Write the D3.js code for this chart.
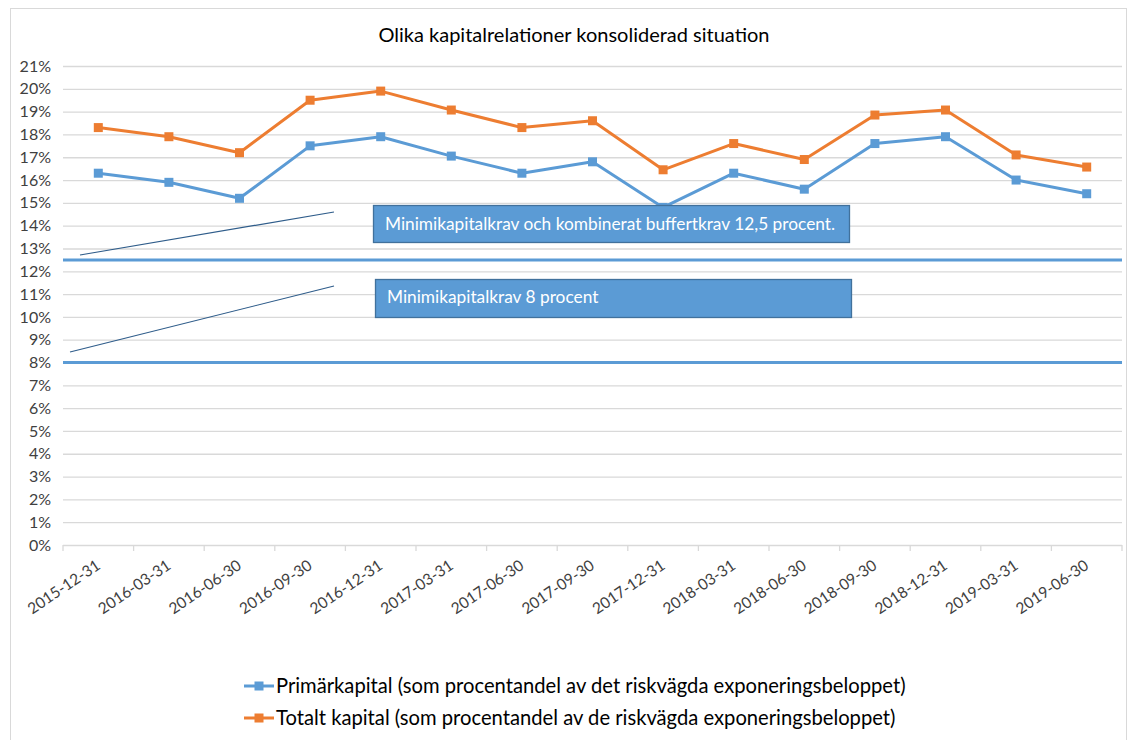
<!DOCTYPE html>
<html>
<head>
<meta charset="utf-8">
<script src="https://cdn.jsdelivr.net/npm/d3@7"></script>
<style>
  body { margin: 0; background: #fff; }
  text { font-family: Lato, "Open Sans", sans-serif; }
</style>
</head>
<body>
<div class="chart"></div>
<script>
// data
const dates = ["2015-12-31", "2016-03-31", "2016-06-30", "2016-09-30", "2016-12-31",
  "2017-03-31", "2017-06-30", "2017-09-30", "2017-12-31", "2018-03-31", "2018-06-30",
  "2018-09-30", "2018-12-31", "2019-03-31", "2019-06-30"];
const primar = [16.3, 15.9, 15.2, 17.5, 17.9, 17.05, 16.3, 16.8, 14.8, 16.3, 15.6, 17.6, 17.9, 16.0, 15.4];
const totalt = [18.3, 17.9, 17.2, 19.5, 19.9, 19.07, 18.3, 18.6, 16.45, 17.6, 16.9, 18.85, 19.07, 17.1, 16.57];
const yTicks = d3.range(0, 22);
const krav = [12.5, 8];
const seriesNames = ["Primärkapital (som procentandel av det riskvägda exponeringsbeloppet)",
  "Totalt kapital (som procentandel av de riskvägda exponeringsbeloppet)"];
const notes = ["Minimikapitalkrav och kombinerat buffertkrav 12,5 procent.", "Minimikapitalkrav 8 procent"];

const W = 1129, H = 740;
const blue = "#5b9bd5", orange = "#ed7d31";

const svg = d3.select(".chart").append("svg")
  .attr("width", W)
  .attr("height", H);

// outer border
svg.append("rect")
  .attr("x", 10.5).attr("y", 8.5)
  .attr("width", 1116).attr("height", 760)
  .attr("fill", "none").attr("stroke", "#d9d9d9");

svg.append("text")
  .attr("x", 574).attr("y", 42)
  .attr("text-anchor", "middle")
  .attr("font-size", 20)
  .attr("fill", "#000")
  .text("Olika kapitalrelationer konsoliderad situation");

const x = d3.scaleBand().domain(dates).range([63, 1122]);
const y = d3.scaleLinear().domain([0, 21]).range([545, 66]);

// gridlines
svg.append("g")
  .selectAll("line")
  .data(yTicks.slice(1))
  .join("line")
  .attr("x1", 63).attr("x2", 1122)
  .attr("y1", d => y(d) + 0.5).attr("y2", d => y(d) + 0.5)
  .attr("stroke", "#d9d9d9").attr("stroke-width", 1.3);

// y axis labels
const yAxis = d3.axisLeft(y)
  .tickValues(yTicks)
  .tickFormat(d => d + "%")
  .tickSize(0)
  .tickPadding(12);

svg.append("g")
  .attr("transform", "translate(63,0)")
  .call(yAxis)
  .call(g => g.select(".domain").remove())
  .call(g => g.selectAll("text")
    .attr("font-size", 16).attr("fill", "#404040")
    .attr("font-family", "Lato, sans-serif"));

// x axis line and ticks at category boundaries
svg.append("line")
  .attr("x1", 63).attr("x2", 1122)
  .attr("y1", 545.5).attr("y2", 545.5)
  .attr("stroke", "#d9d9d9").attr("stroke-width", 1.3);

svg.append("g")
  .selectAll("line")
  .data(dates.concat(["end"]))
  .join("line")
  .attr("x1", (d, i) => i < dates.length ? x(d) : x.range()[1])
  .attr("x2", (d, i) => i < dates.length ? x(d) : x.range()[1])
  .attr("y1", 545).attr("y2", 551)
  .attr("stroke", "#d9d9d9").attr("stroke-width", 1.3);

svg.append("g")
  .selectAll("text")
  .data(dates)
  .join("text")
  .attr("transform", d => "translate(" + (x(d) + x.bandwidth() / 2 - 3) + ",559) rotate(-34)")
  .attr("text-anchor", "end")
  .attr("dy", "0.7em")
  .attr("font-size", 15.5)
  .attr("fill", "#404040")
  .text(d => d);

// requirement lines
svg.append("g")
  .selectAll("line")
  .data(krav)
  .join("line")
  .attr("x1", 63).attr("x2", 1122)
  .attr("y1", d => y(d)).attr("y2", d => y(d))
  .attr("stroke", blue).attr("stroke-width", 3);

// thin connector lines from the notes
svg.append("line")
  .attr("x1", 80).attr("y1", 255).attr("x2", 334).attr("y2", 212)
  .attr("stroke", "#2e5c8a").attr("stroke-width", 1.2);
svg.append("line")
  .attr("x1", 70).attr("y1", 352).attr("x2", 334).attr("y2", 286)
  .attr("stroke", "#2e5c8a").attr("stroke-width", 1.2);

// series lines
const line = d3.line()
  .x((d, i) => x(dates[i]) + x.bandwidth() / 2)
  .y(d => y(d));

[[primar, blue], [totalt, orange]].forEach(([vals, col]) => {
  svg.append("path")
    .datum(vals)
    .attr("d", line)
    .attr("fill", "none")
    .attr("stroke", col)
    .attr("stroke-width", 3)
    .attr("stroke-linejoin", "round");

  svg.append("g")
    .selectAll("rect")
    .data(vals)
    .join("rect")
    .attr("x", (d, i) => x(dates[i]) + x.bandwidth() / 2 - 4.5)
    .attr("y", d => y(d) - 4.5)
    .attr("width", 9).attr("height", 9)
    .attr("fill", col);
});

// note boxes
const boxes = [{x: 373, y: 205, w: 476, h: 37}, {x: 375, y: 279, w: 476, h: 38}];
boxes.forEach((b, i) => {
  svg.append("rect")
    .attr("x", b.x + 0.5).attr("y", b.y + 0.5)
    .attr("width", b.w).attr("height", b.h)
    .attr("fill", blue).attr("stroke", "#41719c").attr("stroke-width", 1.3);
  svg.append("text")
    .attr("x", b.x + 12).attr("y", i == 0 ? b.y + 25 : b.y + 24)
    .attr("font-size", 17.3)
    .attr("fill", "#fff")
    .text(notes[i]);
});

// legend
const legend = svg.append("g");
[[blue, 686], [orange, 718]].forEach(([col, ly], i) => {
  legend.append("line")
    .attr("x1", 244).attr("x2", 274)
    .attr("y1", ly).attr("y2", ly)
    .attr("stroke", col).attr("stroke-width", 3);
  legend.append("rect")
    .attr("x", 254.5).attr("y", ly - 4.5)
    .attr("width", 9).attr("height", 9)
    .attr("fill", col);
  legend.append("text")
    .attr("x", 276).attr("y", ly + 7)
    .attr("font-size", 20.2)
    .attr("fill", "#000")
    .text(seriesNames[i]);
});
</script>
</body>
</html>
